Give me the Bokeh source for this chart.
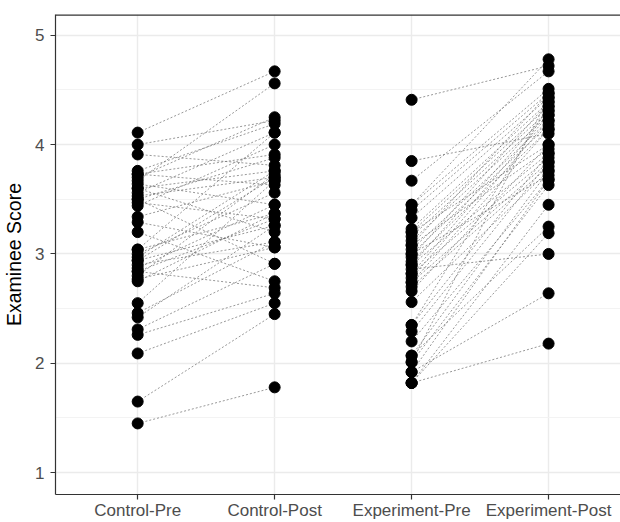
from bokeh.plotting import figure
from bokeh.models import Range1d, FixedTicker, Span
from bokeh.embed import file_html
from bokeh.resources import INLINE

categories = ["Control-Pre", "Control-Post", "Experiment-Pre", "Experiment-Post"]

control_pre = [4.11, 4.00, 3.91, 3.76, 3.73, 3.73, 3.70, 3.67, 3.64, 3.60, 3.60,
               3.56, 3.53, 3.50, 3.50, 3.47, 3.44, 3.34, 3.29, 3.20, 3.04, 3.04,
               3.00, 2.97, 2.94, 2.94, 2.90, 2.87, 2.84, 2.84, 2.80, 2.77, 2.75,
               2.55, 2.46, 2.42, 2.31, 2.26, 2.09, 1.65, 1.45]
control_post = [4.67, 4.22, 3.81, 4.19, 3.91, 3.63, 4.25, 4.56, 3.45, 3.76, 3.20,
                4.11, 3.70, 3.88, 2.91, 3.32, 4.00, 3.67, 3.06, 2.75, 4.11, 3.37,
                3.56, 3.76, 3.26, 3.70, 3.11, 3.45, 2.69, 3.32, 3.73, 3.06, 3.37,
                3.67, 3.11, 3.26, 2.91, 2.64, 2.55, 2.45, 1.78]

exp_pre = [4.41, 3.85, 3.67, 3.45, 3.45, 3.40, 3.33, 3.23, 3.20, 3.20, 3.16,
           3.12, 3.08, 3.08, 3.04, 3.00, 3.00, 2.97, 2.93, 2.90, 2.90, 2.86,
           2.82, 2.82, 2.78, 2.74, 2.74, 2.70, 2.66, 2.56, 2.35, 2.35, 2.29,
           2.20, 2.07, 2.07, 2.01, 2.01, 1.92, 1.92, 1.82, 1.82, 1.82]
exp_post = [4.72, 4.10, 4.67, 4.78, 4.51, 4.47, 4.43, 4.39, 4.35, 4.00, 4.31,
            4.27, 4.47, 3.96, 4.22, 4.18, 3.72, 4.39, 4.14, 3.92, 4.31, 3.00,
            4.27, 3.88, 4.22, 3.84, 4.14, 3.80, 4.00, 3.76, 4.35, 3.92, 3.84,
            3.68, 3.76, 3.25, 3.63, 4.43, 3.68, 2.64, 3.45, 3.19, 2.18]

y_ticks = [1, 2, 3, 4, 5]
y_minor = [1.5, 2.5, 3.5, 4.5]

FONT = "Liberation Sans"
Y0, Y1 = 0.8, 5.19

p = figure(width=620, height=522, output_backend="svg", toolbar_location=None,
           x_range=Range1d(0.4, 4.525), y_range=Range1d(Y0, Y1),
           min_border_left=55, min_border_top=14, min_border_right=0, min_border_bottom=22)
p.outline_line_color = None
p.background_fill_color = "white"
p.border_fill_color = "white"

pos = {c: i + 1 for i, c in enumerate(categories)}

# paired lines
for a, b, pre, post in [("Control-Pre", "Control-Post", control_pre, control_post),
                        ("Experiment-Pre", "Experiment-Post", exp_pre, exp_post)]:
    n = len(pre)
    p.segment(x0=[pos[a]] * n, y0=pre, x1=[pos[b]] * n, y1=post,
              line_color="#666666", line_width=0.8, line_dash="2 2", line_alpha=0.85)

for c, vals in zip(categories, [control_pre, control_post, exp_pre, exp_post]):
    p.scatter(x=[pos[c]] * len(vals), y=vals, size=11, color="black")

# axes
p.xaxis.ticker = FixedTicker(ticks=[1, 2, 3, 4])
p.xaxis.major_label_overrides = {i + 1: c for i, c in enumerate(categories)}
p.yaxis.ticker = FixedTicker(ticks=y_ticks, minor_ticks=y_minor)
p.yaxis.axis_label = "Examinee Score"

for ax in (p.xaxis, p.yaxis):
    ax.axis_line_color = "#333333"
    ax.axis_line_width = 1.2
    ax.major_tick_line_color = "#333333"
    ax.major_tick_line_width = 1.2
    ax.major_tick_out = 5
    ax.major_tick_in = 0
    ax.minor_tick_line_color = None
    ax.major_label_text_font = FONT
    ax.major_label_text_font_size = "17px"
    ax.major_label_text_color = "#4D4D4D"
    ax.axis_label_text_font = FONT
    ax.axis_label_text_font_size = "19.5px"
    ax.axis_label_text_font_style = "normal"
    ax.axis_label_text_color = "black"

p.xaxis.major_label_standoff = 1
p.yaxis.major_label_standoff = 6
p.yaxis.axis_label_standoff = 7

p.xgrid.ticker = FixedTicker(ticks=[1, 2, 3, 4])
p.xgrid.grid_line_color = "#EBEBEB"
p.xgrid.grid_line_width = 1.4
p.ygrid.grid_line_color = "#EBEBEB"
p.ygrid.grid_line_width = 1.4
p.ygrid.minor_grid_line_color = "#F2F2F2"
p.ygrid.minor_grid_line_width = 0.9

p.add_layout(Span(location=Y1, dimension="width", line_color="#333333", line_width=2.4))

open("out.html", "w").write(file_html(p, INLINE))
